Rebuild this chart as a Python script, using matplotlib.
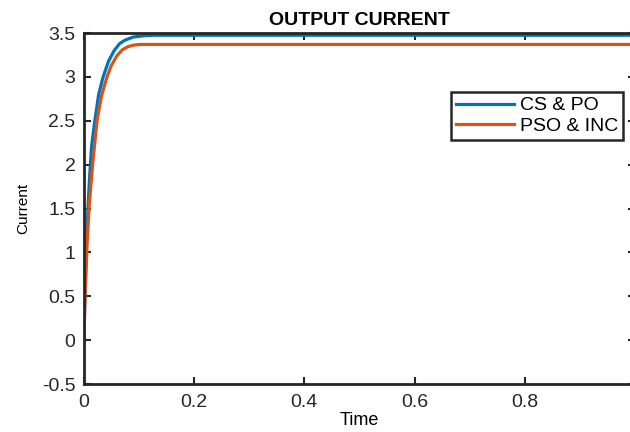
import numpy as np
import matplotlib.pyplot as plt

# time samples (s) and currents
t_cs = [0, 0.003, 0.006, 0.01, 0.014, 0.02, 0.027, 0.035, 0.045, 0.055,
        0.065, 0.075, 0.09, 0.11, 0.13, 1.0]
i_cs = [0, 0.7, 1.3, 1.8, 2.2, 2.5, 2.8, 3.0, 3.18, 3.3,
        3.38, 3.42, 3.455, 3.47, 3.475, 3.475]

t_pso = [0, 0.003, 0.006, 0.01, 0.016, 0.024, 0.032, 0.042, 0.05, 0.06,
         0.07, 0.08, 0.09, 0.1, 1.0]
i_pso = [0, 0.6, 1.1, 1.55, 2.0, 2.5, 2.78, 3.0, 3.13, 3.24,
         3.31, 3.345, 3.362, 3.37, 3.37]

xticks = [0, 0.2, 0.4, 0.6, 0.8, 1]
xlabels = ['0', '0.2', '0.4', '0.6', '0.8', '']  # "1" falls outside the picture
yticks = [-0.5, 0, 0.5, 1, 1.5, 2, 2.5, 3, 3.5]
ylabels = ['-0.5', '0', '0.5', '1', '1.5', '2', '2.5', '3', '3.5']

plt.rcParams['font.family'] = ['Liberation Sans', 'DejaVu Sans']

fig = plt.figure(figsize=(6.3, 4.32), dpi=100)
ax = fig.add_axes([0.133, 0.111, 0.875, 0.8125])

ax.plot(t_cs, i_cs, color='#0072BD', lw=2.3, label='CS & PO')
ax.plot(t_pso, i_pso, color='#D95319', lw=2.3, label='PSO & INC')

ax.set_xlim(0, 1)
ax.set_ylim(-0.5, 3.5)
ax.set_xticks(xticks)
ax.set_xticklabels(xlabels)
ax.set_yticks(yticks)
ax.set_yticklabels(ylabels)
ax.tick_params(direction='in', length=5, width=1.5, top=True, right=True,
               labelsize=14, colors='#262626')
ax.tick_params(axis='x', pad=7)
ax.tick_params(axis='y', pad=6)

for s in ax.spines.values():
    s.set_linewidth(2)
    s.set_color('#262626')

ax.set_title('OUTPUT CURRENT', fontsize=14, fontweight='bold', pad=6)
ax.set_xlabel('Time', fontsize=13, labelpad=1)
ax.set_ylabel('Current', fontsize=11, labelpad=8)

leg = ax.legend(loc='upper right', bbox_to_anchor=(0.978, 0.832),
                borderaxespad=0, fontsize=14, fancybox=False,
                handlelength=3.0, handletextpad=0.3, labelspacing=0.15,
                borderpad=0.25, edgecolor='#262626')
leg.get_frame().set_linewidth(1.8)
leg.get_frame().set_alpha(1)

fig.savefig('out.png', dpi=100)
